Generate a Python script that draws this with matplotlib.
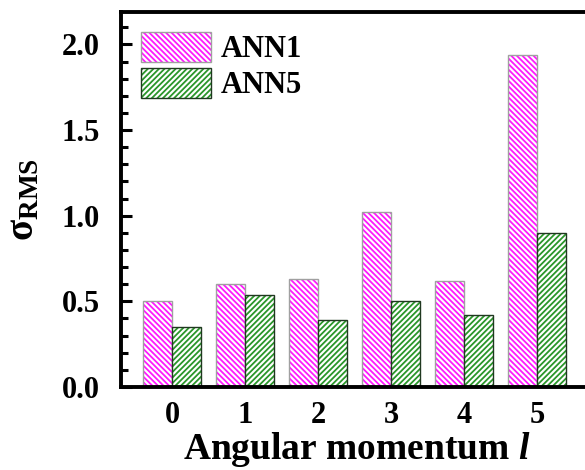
import numpy as np
import matplotlib
matplotlib.use("Agg")
import matplotlib.pyplot as plt
from matplotlib.ticker import MultipleLocator
from matplotlib.patches import Patch

# RMS deviation per angular momentum channel
l_values = [0, 1, 2, 3, 4, 5]
ann1 = [0.50, 0.60, 0.63, 1.02, 0.62, 1.94]
ann5 = [0.35, 0.535, 0.39, 0.50, 0.42, 0.90]
labels = ['ANN1', 'ANN5']

plt.rcParams['font.family'] = ['Liberation Serif', 'DejaVu Serif']
plt.rcParams['font.weight'] = 'bold'
plt.rcParams['mathtext.fontset'] = 'custom'
plt.rcParams['mathtext.rm'] = 'Liberation Serif:bold'
plt.rcParams['mathtext.bf'] = 'Liberation Serif:bold'
plt.rcParams['mathtext.it'] = 'Liberation Serif:italic:bold'
plt.rcParams['mathtext.bfit'] = 'Liberation Serif:italic:bold'
plt.rcParams['hatch.linewidth'] = 1.3

fig = plt.figure(figsize=(5.85, 4.7), dpi=100)
ax = fig.add_axes([0.2068, 0.1766, 0.805, 0.798])

x = np.array(l_values)
w = 0.4
pink = '#ff1aff'
green = '#2a962a'
hatch1 = '\\\\\\\\\\\\'
hatch5 = '//////'
edge1 = '#a0a0a0'
edge5 = '#203820'

# hatched fill first, then outline on top
ax.bar(x - w/2, ann1, w, color='white', edgecolor=pink, hatch=hatch1, linewidth=0)
ax.bar(x - w/2, ann1, w, fill=False, edgecolor=edge1, linewidth=1.0)
ax.bar(x + w/2, ann5, w, color='white', edgecolor=green, hatch=hatch5, linewidth=0)
ax.bar(x + w/2, ann5, w, fill=False, edgecolor=edge5, linewidth=1.0)

ax.set_xlim(-0.7, 5.75)
ax.set_ylim(0, 2.19)
ax.set_xticks(x)
ax.set_xticklabels([str(v) for v in l_values])
ax.yaxis.set_minor_locator(MultipleLocator(0.1))
yt = np.arange(0, 2.01, 0.5)
ax.set_yticks(yt)
ax.set_yticklabels(['%.1f' % v for v in yt])

ax.tick_params(axis='y', which='major', direction='in', length=8, width=2.2, labelsize=22, pad=15)
ax.tick_params(axis='y', which='minor', direction='in', length=5, width=2.2)
ax.tick_params(axis='x', length=0, labelsize=22, pad=10)
for s in ax.spines.values():
    s.set_linewidth(2.8)
ax.spines['right'].set_visible(False)

ax.set_xlabel(r'Angular momentum $\mathbfit{l}$', fontsize=27, fontweight='bold', labelpad=0)
ax.set_ylabel(r'$\mathbf{σ}_{\mathbf{RMS}}$', fontsize=28, labelpad=14)

handles = [
    Patch(facecolor='white', edgecolor=pink, hatch=hatch1, linewidth=0),
    Patch(facecolor='white', edgecolor=green, hatch=hatch5, linewidth=0),
]
leg = ax.legend(handles, labels, loc='upper left', frameon=False, fontsize=22,
                handlelength=2.3, handleheight=1.14, handletextpad=0.3, labelspacing=0.12,
                borderaxespad=0.2, borderpad=0.45)

# outline each legend swatch like the bars
fig.canvas.draw()
renderer = fig.canvas.get_renderer()
for p, ec in zip(leg.get_patches(), [edge1, edge5]):
    bb = p.get_window_extent(renderer)
    fig.patches.append(plt.Rectangle((bb.x0 / fig.bbox.width, bb.y0 / fig.bbox.height),
                                     bb.width / fig.bbox.width, bb.height / fig.bbox.height,
                                     transform=fig.transFigure, fill=False,
                                     edgecolor=ec, linewidth=1.0))

fig.savefig('out.png', dpi=100)
